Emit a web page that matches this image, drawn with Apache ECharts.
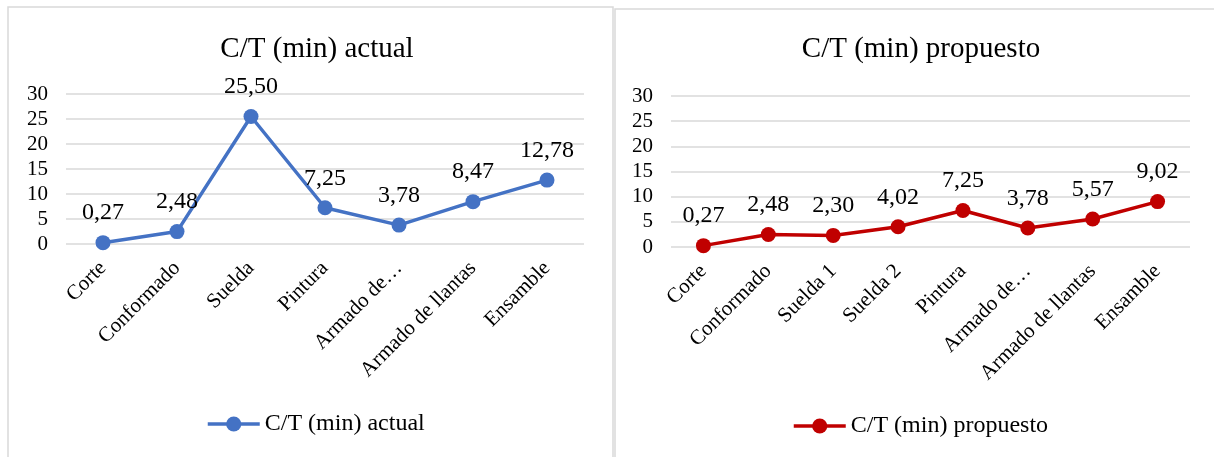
<!DOCTYPE html>
<html>
<head>
<meta charset="utf-8">
<script src="https://cdn.jsdelivr.net/npm/echarts@6/dist/echarts.min.js"></script>
<style>
  html, body { margin: 0; padding: 0; background: #fff; }
  #chart { width: 1214px; height: 457px; }
</style>
</head>
<body>
<div id="chart"></div>
<script>
// Cycle time per station, current layout
const actualCategories = ['Corte', 'Conformado', 'Suelda', 'Pintura', 'Armado de…', 'Armado de llantas', 'Ensamble'];
const actualValues = [0.27, 2.48, 25.50, 7.25, 3.78, 8.47, 12.78];

// Cycle time per station, proposed layout
const proposedCategories = ['Corte', 'Conformado', 'Suelda 1', 'Suelda 2', 'Pintura', 'Armado de…', 'Armado de llantas', 'Ensamble'];
const proposedValues = [0.27, 2.48, 2.30, 4.02, 7.25, 3.78, 5.57, 9.02];

const actualName = 'C/T (min) actual';
const proposedName = 'C/T (min) propuesto';

const FONT = "'Liberation Serif', 'Times New Roman', serif";
const GRID_COLOR = '#d9d9d9';

const fmt = v => v.toFixed(2).replace('.', ',');

function xAxis(gridIndex, data) {
  return {
    type: 'category', gridIndex, data,
    boundaryGap: true,
    axisLine: { show: false },
    axisTick: { show: false },
    axisLabel: {
      rotate: 45, margin: 21, interval: 0,
      fontFamily: FONT, fontSize: 21, color: '#000'
    }
  };
}

function yAxis(gridIndex) {
  return {
    type: 'value', gridIndex, min: 0, max: 30, interval: 5,
    axisLine: { show: false },
    axisTick: { show: false },
    splitLine: { lineStyle: { color: GRID_COLOR, width: 1.5 } },
    axisLabel: { margin: 18, fontFamily: FONT, fontSize: 21, color: '#000' }
  };
}

function lineSeries(name, idx, values, color) {
  return {
    name, type: 'line', xAxisIndex: idx, yAxisIndex: idx,
    data: values,
    symbol: 'circle', symbolSize: 15,
    itemStyle: { color },
    lineStyle: { color, width: 3.5 },
    label: {
      show: true, position: 'top', distance: 10,
      fontFamily: FONT, fontSize: 24, color: '#000',
      formatter: p => fmt(p.value)
    },
    z: 3
  };
}

function legend(name, left, top) {
  return {
    data: [name], left, top, itemWidth: 52, itemHeight: 19, itemGap: 5,
    lineStyle: { width: 3.5 },
    textStyle: { fontFamily: FONT, fontSize: 24, color: '#000' }
  };
}

const chart = echarts.init(document.getElementById('chart'), null, { renderer: 'canvas' });

chart.setOption({
  animation: false,
  backgroundColor: '#fff',
  graphic: [
    { type: 'rect', shape: { x: 8, y: 7, width: 605, height: 460 },
      style: { fill: 'none', stroke: GRID_COLOR, lineWidth: 1.5 }, z: -1 },
    { type: 'rect', shape: { x: 615, y: 9, width: 610, height: 460 },
      style: { fill: 'none', stroke: GRID_COLOR, lineWidth: 1.5 }, z: -1 }
  ],
  title: [
    { text: actualName, left: 312, top: 30, textAlign: 'center',
      textStyle: { fontFamily: FONT, fontSize: 29, fontWeight: 'normal', color: '#000' } },
    { text: proposedName, left: 916, top: 30, textAlign: 'center',
      textStyle: { fontFamily: FONT, fontSize: 29, fontWeight: 'normal', color: '#000' } }
  ],
  legend: [
    legend(actualName, 201, 407),
    legend(proposedName, 787, 409)
  ],
  grid: [
    { left: 66, top: 94, width: 518, height: 150 },
    { left: 671, top: 96, width: 519, height: 151 }
  ],
  xAxis: [xAxis(0, actualCategories), xAxis(1, proposedCategories)],
  yAxis: [yAxis(0), yAxis(1)],
  series: [
    lineSeries(actualName, 0, actualValues, '#4472C4'),
    lineSeries(proposedName, 1, proposedValues, '#C00000')
  ]
});
</script>
</body>
</html>
